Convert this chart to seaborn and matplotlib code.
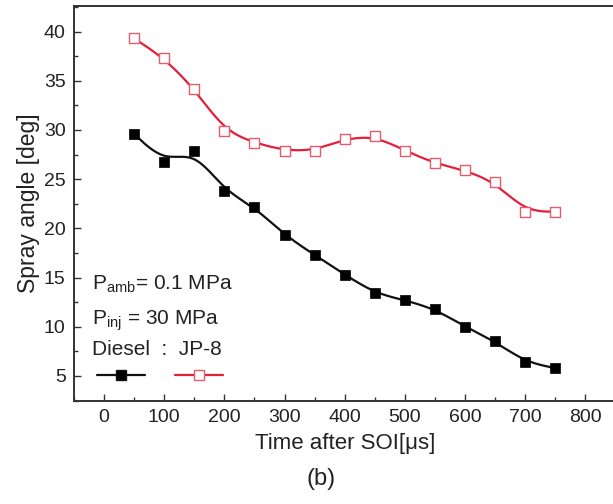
import numpy as np
import pandas as pd
import matplotlib
matplotlib.use("Agg")
import matplotlib.pyplot as plt
import seaborn as sns
from matplotlib.lines import Line2D
from matplotlib.ticker import MultipleLocator

# ---- data ----
time_us = [50, 100, 150, 200, 250, 300, 350, 400, 450, 500, 550, 600, 650, 700, 750]
diesel = [29.6, 26.7, 27.9, 23.8, 22.2, 19.3, 17.3, 15.3, 13.4, 12.7, 11.8, 10.0, 8.5, 6.4, 5.8]
jp8 = [39.3, 37.3, 34.2, 29.9, 28.7, 27.9, 27.9, 29.1, 29.4, 27.9, 26.6, 25.9, 24.7, 21.7, 21.7]
x_ticks = [0, 100, 200, 300, 400, 500, 600, 700, 800]
y_ticks = [5, 10, 15, 20, 25, 30, 35, 40]


def bspline_curve(x, y, per_seg=30):
    """Uniform cubic B-spline connector (Origin-style 'B-Spline' line) using data as control points."""
    px = np.concatenate([[x[0]] * 2, x, [x[-1]] * 2]).astype(float)
    py = np.concatenate([[y[0]] * 2, y, [y[-1]] * 2]).astype(float)
    t = np.linspace(0, 1, per_seg, endpoint=False)
    b0 = (1 - t) ** 3 / 6
    b1 = (3 * t ** 3 - 6 * t ** 2 + 4) / 6
    b2 = (-3 * t ** 3 + 3 * t ** 2 + 3 * t + 1) / 6
    b3 = t ** 3 / 6
    xs, ys = [], []
    for i in range(len(px) - 3):
        xs.append(b0 * px[i] + b1 * px[i + 1] + b2 * px[i + 2] + b3 * px[i + 3])
        ys.append(b0 * py[i] + b1 * py[i + 1] + b2 * py[i + 2] + b3 * py[i + 3])
    xs.append([x[-1]]); ys.append([y[-1]])
    return np.concatenate(xs), np.concatenate(ys)


sns.set_style("ticks")
plt.rcParams['font.family'] = ['Liberation Sans', 'DejaVu Sans']
plt.rcParams['mathtext.fontset'] = 'custom'
plt.rcParams['mathtext.rm'] = 'Liberation Sans'
plt.rcParams['mathtext.it'] = 'Liberation Sans'

fig = plt.figure(figsize=(6.13, 5.04), dpi=100)
ax = fig.add_axes([74 / 613, 103 / 504, 1.0 - 74 / 613 + 0.004, 395 / 504])

RED = '#e3203a'
RED_M = '#e65c6c'
TXT = '#222222'

df_d = pd.DataFrame({'t': time_us, 'v': diesel})
df_j = pd.DataFrame({'t': time_us, 'v': jp8})

xs, ys = bspline_curve(time_us, diesel)
ax.plot(xs, ys, color='#111111', lw=1.6, zorder=2)
xs, ys = bspline_curve(time_us, jp8)
ax.plot(xs, ys, color=RED, lw=1.6, zorder=2)

sns.scatterplot(data=df_d, x='t', y='v', ax=ax, marker='s', s=62, color='black',
                edgecolor='black', linewidth=0.5, zorder=3)
sns.scatterplot(data=df_j, x='t', y='v', ax=ax, marker='s', s=46, facecolor='white',
                edgecolor=RED_M, linewidth=1.0, zorder=3)

ax.set_xlim(-50, 850)
ax.set_ylim(2.45, 42.6)
ax.set_xticks(x_ticks)
ax.set_yticks(y_ticks)
ax.xaxis.set_minor_locator(MultipleLocator(50))
ax.yaxis.set_minor_locator(MultipleLocator(2.5))
ax.tick_params(which='both', direction='in', width=1.0, colors='#333333', labelcolor=TXT)
ax.tick_params(which='major', length=5, labelsize=14)
ax.tick_params(which='minor', length=3)
ax.tick_params(axis='x', pad=6)
ax.tick_params(axis='y', pad=6)
for side in ['left', 'bottom', 'top']:
    ax.spines[side].set_linewidth(1.4)
    ax.spines[side].set_color('#333333')
ax.spines['right'].set_visible(False)

ax.set_xlabel('Time after SOI[\u03bcs]', fontsize=16, labelpad=5, color=TXT)
ax.set_ylabel('Spray angle [deg]', fontsize=16.5, labelpad=3, color=TXT)

ax.text(0.034, 0.281, r'P$_{\mathrm{amb}}$= 0.1 MPa', transform=ax.transAxes, fontsize=15, color=TXT, va='baseline')
ax.text(0.034, 0.192, r'P$_{\mathrm{inj}}$ = 30 MPa', transform=ax.transAxes, fontsize=15, color=TXT, va='baseline')
ax.text(0.034, 0.116, 'Diesel  :  JP-8', transform=ax.transAxes, fontsize=15, color=TXT, va='baseline')

handles = [Line2D([], [], color='#111111', lw=1.6, marker='s', markersize=7, markerfacecolor='black'),
           Line2D([], [], color=RED, lw=1.6, marker='s', markersize=6.5, markerfacecolor='white', markeredgecolor=RED_M)]
ax.legend(handles, ['', ''], loc='center left', bbox_to_anchor=((97 - 74) / 542, 0.062), ncol=2, frameon=False,
          fontsize=15, handlelength=2.3, handletextpad=0.0, columnspacing=1.45, borderaxespad=0.0, borderpad=0.0)

fig.text(321 / 613, 1 - 479 / 504, '(b)', fontsize=17, ha='center', va='center', color=TXT)

fig.savefig('out.png', dpi=100)
